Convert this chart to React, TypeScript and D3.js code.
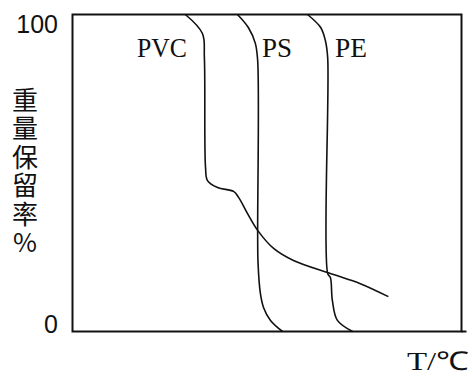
import React, { useEffect, useRef } from 'react';
import * as d3 from 'd3';

// temperature (relative units along the x axis) vs. weight retention %
const pvcT = [29.0, 33.4, 33.9, 34.2, 34.7, 37.3, 41.4, 42.7, 45.0, 47.6, 51.7, 56.8, 66.3, 74.0, 81.2];
const pvcW = [100, 94.0, 86.4, 51.7, 47.6, 45.4, 44.2, 42.3, 37.2, 31.9, 26.2, 22.4, 18.3, 15.1, 11.0];
const psT = [42.4, 45.2, 47.0, 47.6, 47.6, 47.7, 48.3, 49.1, 50.9, 54.0];
const psW = [100, 95.9, 90.9, 85.5, 30.9, 21.5, 12.0, 7.6, 3.5, 0];
const peT = [60.4, 63.8, 65.0, 65.6, 65.6, 66.3, 66.8, 68.1, 72.0];
const peW = [100, 95.9, 91.8, 86.4, 18.3, 17.0, 9.8, 3.5, 0];

const seriesNames = ['PVC', 'PS', 'PE'];
const yTicks = [0, 100];
const yLabel = '重量保留率%';
const xLabel = 'T/℃';

const App = () => {
    const svgRef = useRef<SVGSVGElement>(null);

    useEffect(() => {
        const svg = d3.select(svgRef.current);
        svg.selectAll('*').remove();

        const width = 473;
        const height = 377;
        const margin = { top: 14.5, right: 11.5, bottom: 45.5, left: 72.5 };
        const innerWidth = width - margin.left - margin.right;
        const innerHeight = height - margin.top - margin.bottom;

        svg.append('rect').attr('width', width).attr('height', height).attr('fill', '#fff');

        const x = d3.scaleLinear().domain([0, 100]).range([0, innerWidth]);
        const y = d3.scaleLinear().domain([0, 100]).range([innerHeight, 0]);

        const g = svg.append('g').attr('transform', `translate(${margin.left},${margin.top})`);

        // frame
        g.append('rect')
            .attr('width', innerWidth)
            .attr('height', innerHeight)
            .attr('fill', 'none')
            .attr('stroke', '#111')
            .attr('stroke-width', 2);
        g.append('line')
            .attr('x1', innerWidth).attr('x2', innerWidth + 5)
            .attr('y1', innerHeight).attr('y2', innerHeight)
            .attr('stroke', '#111').attr('stroke-width', 2);

        const line = d3.line<[number, number]>()
            .x(d => x(d[0]))
            .y(d => y(d[1]))
            .curve(d3.curveCatmullRom.alpha(0.5));

        const series = [
            d3.zip(pvcT, pvcW),
            d3.zip(psT, psW),
            d3.zip(peT, peW),
        ];

        series.forEach(s => {
            g.append('path')
                .datum(s as [number, number][])
                .attr('d', line)
                .attr('fill', 'none')
                .attr('stroke', '#111')
                .attr('stroke-width', 1.6);
        });

        // series labels
        const labelPos = [
            { x: 137, w: 50 },
            { x: 262, w: 30 },
            { x: 335, w: 32 },
        ];
        seriesNames.forEach((name, i) => {
            svg.append('text')
                .attr('x', labelPos[i].x)
                .attr('y', 57)
                .attr('textLength', labelPos[i].w)
                .attr('lengthAdjust', 'spacingAndGlyphs')
                .attr('font-family', 'Liberation Serif')
                .attr('font-size', 28)
                .attr('fill', '#111')
                .text(name);
        });

        // y ticks (labels only)
        yTicks.forEach(t => {
            svg.append('text')
                .attr('x', 58)
                .attr('y', margin.top + y(t) + (t === 100 ? 18 : 1.5))
                .attr('text-anchor', 'end')
                .attr('font-family', 'Liberation Sans')
                .attr('font-size', 25)
                .attr('fill', '#111')
                .text(t);
        });

        // y axis title, written top to bottom
        svg.append('text')
            .attr('x', 25)
            .attr('y', 87)
            .attr('writing-mode', 'vertical-rl')
            .style('text-orientation', 'upright')
            .style('letter-spacing', '2.5px')
            .attr('font-family', 'Noto Sans CJK SC')
            .attr('font-size', 26)
            .attr('fill', '#111')
            .text(yLabel);

        // x axis title
        svg.append('text')
            .attr('x', 407)
            .attr('y', 370)
            .attr('textLength', 62)
            .attr('lengthAdjust', 'spacingAndGlyphs')
            .attr('font-family', 'Liberation Serif')
            .attr('font-size', 26)
            .attr('fill', '#111')
            .text(xLabel);
    }, []);

    return (
        <svg ref={svgRef} width="473" height="377" style={{ position: 'absolute', left: 0, top: 0 }}></svg>
    );
};

export default App;
